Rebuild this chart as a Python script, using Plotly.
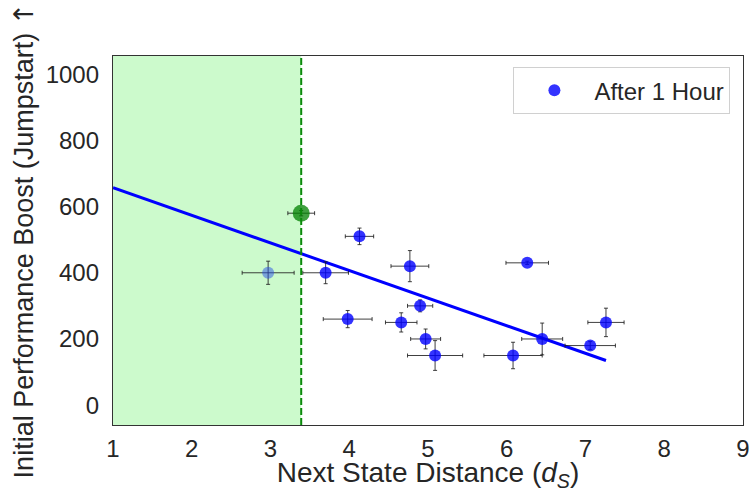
import plotly.graph_objects as go

# --- data ---
dist = [3.70, 4.13, 4.77, 4.90, 4.66, 4.97, 5.09, 3.98, 6.08, 6.26, 6.45, 7.06, 7.26]
boost = [400, 510, 420, 300, 250, 200, 150, 260, 150, 430, 200, 180, 250]
dist_err = [0.29, 0.18, 0.24, 0.16, 0.20, 0.19, 0.35, 0.31, 0.37, 0.27, 0.26, 0.32, 0.23]
boost_err = [33, 25, 47, 18, 29, 30, 45, 26, 40, 5, 48, 12, 43]

faded_x = [2.97]
faded_y = [400]
faded_xerr = [0.33]
faded_yerr = [35]

best_x = [3.39]
best_y = [580]
best_xerr = [0.17]
best_yerr = [8]

fit_x = [1.0, 7.26]
fit_y = [657, 135]

threshold = 3.39
x_range = [1, 9]
y_range = [-60, 1055]
x_ticks = [1, 2, 3, 4, 5, 6, 7, 8, 9]
y_ticks = [0, 200, 400, 600, 800, 1000]

FONT = "Liberation Sans, Arial, DejaVu Sans, sans-serif"
TXT = "#262626"
ERR = dict(type="data", thickness=1, width=2, color="rgba(30,30,30,0.85)")

fig = go.Figure()

# shaded region and threshold line
fig.add_shape(type="rect", xref="x", yref="paper", x0=x_range[0], x1=threshold, y0=0, y1=1,
              fillcolor="rgb(204,250,204)", line_width=0, layer="below")
fig.add_shape(type="line", xref="x", yref="paper", x0=threshold, x1=threshold, y0=0, y1=1,
              line=dict(color="#0a8a0a", width=2, dash="7px,3px"), layer="above")

# regression line
fig.add_trace(go.Scatter(x=fit_x, y=fit_y, mode="lines", line=dict(color="#0000ff", width=3),
                         showlegend=False, hoverinfo="skip"))

# faded point
fig.add_trace(go.Scatter(
    x=faded_x, y=faded_y, mode="markers",
    marker=dict(size=12, color="rgba(40,80,230,0.5)", line_width=0),
    error_x=dict(array=faded_xerr, **ERR), error_y=dict(array=faded_yerr, **ERR),
    showlegend=False))

# main points
fig.add_trace(go.Scatter(
    x=dist, y=boost, mode="markers", name="After 1 Hour",
    marker=dict(size=12, color="rgba(0,0,255,0.8)", line_width=0),
    error_x=dict(array=dist_err, **ERR), error_y=dict(array=boost_err, **ERR)))

# highlighted point
fig.add_trace(go.Scatter(
    x=best_x, y=best_y, mode="markers",
    marker=dict(size=17, color="rgba(0,128,0,0.75)", line_width=0),
    error_x=dict(array=best_xerr, **ERR), error_y=dict(array=best_yerr, **ERR),
    showlegend=False))

fig.update_layout(
    width=751, height=492,
    margin=dict(l=113, r=8, t=56, b=67, autoexpand=False),
    paper_bgcolor="white", plot_bgcolor="white",
    font=dict(family=FONT, color=TXT, size=24),
    legend=dict(x=0.98, y=0.97, xanchor="right", yanchor="top",
                bordercolor="#d0d0d0", borderwidth=1, font=dict(size=24),
                itemwidth=70, bgcolor="white"),
)
fig.update_xaxes(range=x_range, tickvals=x_ticks, showgrid=False, zeroline=False,
                 showline=True, mirror=True, linecolor="#333", linewidth=1.25,
                 ticks="outside", ticklen=2, tickcolor="rgba(0,0,0,0)",
                 tickfont=dict(size=24),
                 title=dict(text="Next State Distance (<i>d</i><sub><i>S</i></sub>)",
                            font=dict(size=28), standoff=12),
                 automargin=False)
fig.update_yaxes(range=y_range, tickvals=y_ticks, showgrid=False, zeroline=False,
                 showline=True, mirror=True, linecolor="#333", linewidth=1.25,
                 ticks="outside", ticklen=8, tickcolor="rgba(0,0,0,0)",
                 tickfont=dict(size=24),
                 title=dict(text="Initial Performance Boost (Jumpstart) "
                                 "<span style=\"font-family:'DejaVu Sans'\">↑</span>",
                            font=dict(size=27), standoff=4),
                 automargin=False)

fig.write_html("out.html", config={"displayModeBar": False},
               post_script="document.body.style.margin='0';")
